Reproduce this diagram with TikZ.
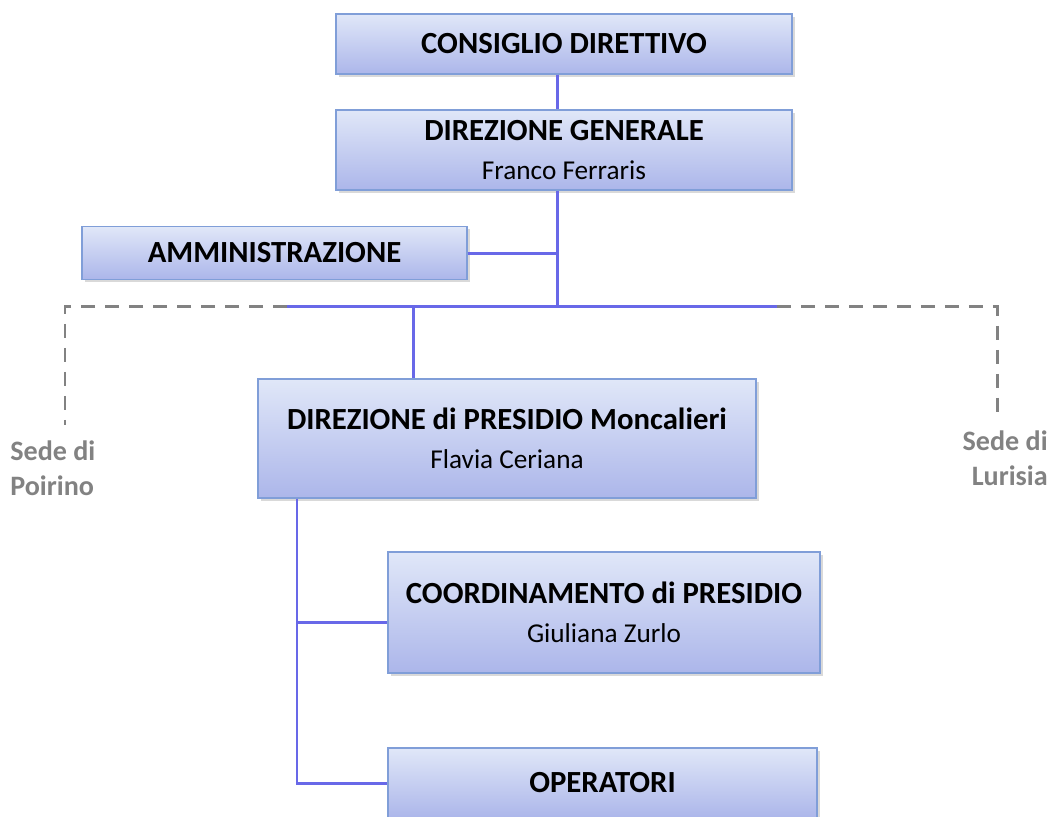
\documentclass[tikz,border=0pt]{standalone}
\usepackage{fontspec}
\setmainfont{Carlito}
\usetikzlibrary{shadows}
\definecolor{boxTop}{RGB}{224,231,248}
\definecolor{boxBot}{RGB}{172,182,234}
\definecolor{boxLine}{RGB}{128,158,216}
\definecolor{linkB}{RGB}{104,104,232}
\definecolor{sedeG}{RGB}{130,130,130}
\newcommand{\who}[1]{{\mdseries\fontsize{15.5}{19}\selectfont #1}}

\begin{document}
\begin{tikzpicture}[x=0.02cm,y=-0.02cm,
  unit/.style={draw=boxLine,line width=0.8pt,top color=boxTop,bottom color=boxBot,
    align=center,inner sep=0pt,font=\fontsize{17.5}{22}\selectfont\bfseries,
    drop shadow={shadow xshift=1.5pt,shadow yshift=-1.5pt,opacity=0.3}},
  link/.style={linkB,line width=1.7pt},
  sede/.style={sedeG,line width=1.7pt,dash pattern=on 0.28cm off 0.2cm},
  sedetxt/.style={sedeG,font=\fontsize{16}{20}\selectfont\bfseries,inner sep=0pt}]
\useasboundingbox (0,0) rectangle (1050,816);
% boxes
\node[unit,minimum width=9.12cm,minimum height=1.2cm] (cd) at (564,44) {CONSIGLIO DIRETTIVO};
\node[unit,minimum width=9.12cm,minimum height=1.6cm] (dg) at (564,150) {DIREZIONE GENERALE\\\who{Franco Ferraris}};
\node[unit,minimum width=7.7cm,minimum height=1.06cm] (amm) at (274.5,253) {AMMINISTRAZIONE};
\node[unit,minimum width=9.96cm,minimum height=2.38cm] (dp) at (507,438.5) {DIREZIONE di PRESIDIO Moncalieri\\\who{Flavia Ceriana}};
\node[unit,minimum width=8.64cm,minimum height=2.42cm] (coord) at (604,612.5) {COORDINAMENTO di PRESIDIO\\\who{Giuliana Zurlo}};
\node[unit,minimum width=8.58cm,minimum height=1.4cm] (oper) at (602.5,783) {OPERATORI};
% sedi
\node[sedetxt,anchor=north west,align=left] (poirino) at (10,440) {Sede di\\Poirino};
\node[sedetxt,anchor=north east,align=right] (lurisia) at (1048,430) {Sede di\\Lurisia};
% junctions
\coordinate (bus) at (557,306);
\coordinate (busL) at (287,306);
\coordinate (busR) at (777,306);
\coordinate (tap) at (413,306);
\coordinate (sedeL) at (65,425);
\coordinate (sedeR) at (997,415);
\coordinate (trunk) at (297,783);
% connectors
\draw[link] (cd.south -| bus) -- (dg.north -| bus);
\draw[link] (dg.south -| bus) -- (bus);
\draw[link] (amm.east) -- (amm.east -| bus);
\draw[link] (busL) -- (busR);
\draw[link] (tap) -- (tap |- dp.north);
\draw[link] (trunk |- dp.south) |- (oper.west);
\draw[link] ([yshift=-0.2cm]coord.west -| trunk) -- ([yshift=-0.2cm]coord.west);
\draw[sede] (busL) -| (sedeL);
\draw[sede] (busR) -| (sedeR);
\end{tikzpicture}
\end{document}
